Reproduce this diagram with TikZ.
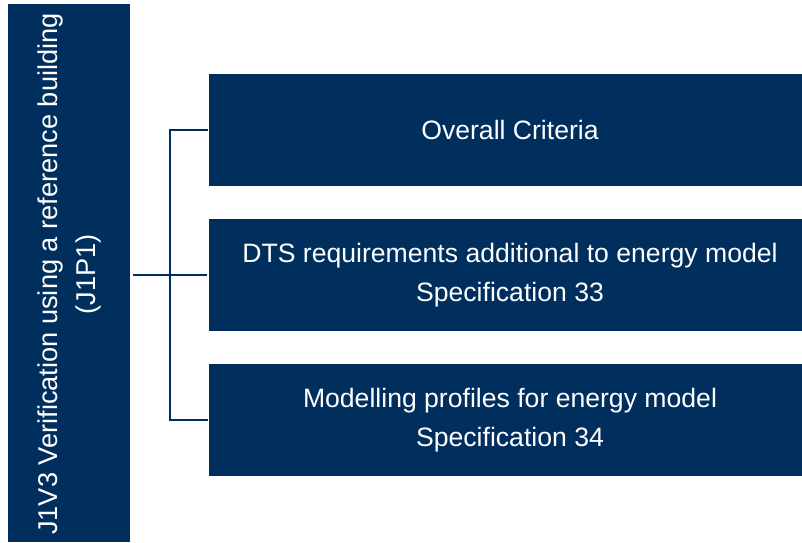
\documentclass[tikz,border=0pt]{standalone}
\usepackage{fontspec}
\setmainfont{Liberation Sans}
\definecolor{navy}{RGB}{0,47,94}
\begin{document}
\begin{tikzpicture}[x=1pt,y=-1pt,
  box/.style={fill=navy,draw=none,text=white,font=\fontsize{26.6}{39}\selectfont,align=center},
  conn/.style={draw=navy,line width=2.8pt}]
\useasboundingbox (0,0) rectangle (802,542);
\fill[navy] (8,4) rectangle (130,542);
\node[box,fill=none,rotate=90,anchor=center,font=\fontsize{27.2}{38}\selectfont] (main) at (69.5,274) {J1V3 Verification using a reference building\\(J1P1)};
\fill[navy] (209,74) rectangle (802,186);
\node[box,fill=none] (b1) at (510,130) {Overall Criteria};
\fill[navy] (209,219) rectangle (802,331);
\node[box,fill=none] (b2) at (510,275) {DTS requirements additional to energy model\\Specification 33};
\fill[navy] (209,364) rectangle (802,476);
\node[box,fill=none] (b3) at (510,420) {Modelling profiles for energy model\\Specification 34};
\coordinate (s) at (133,275);
\coordinate (e1) at (207,130);
\coordinate (e2) at (207,275);
\coordinate (e3) at (207,420);
\draw[conn] (s) -- (e2);
\draw[conn,line cap=rect] (e1) -- (170,130) -- (170,420) -- (e3);
\end{tikzpicture}
\end{document}
